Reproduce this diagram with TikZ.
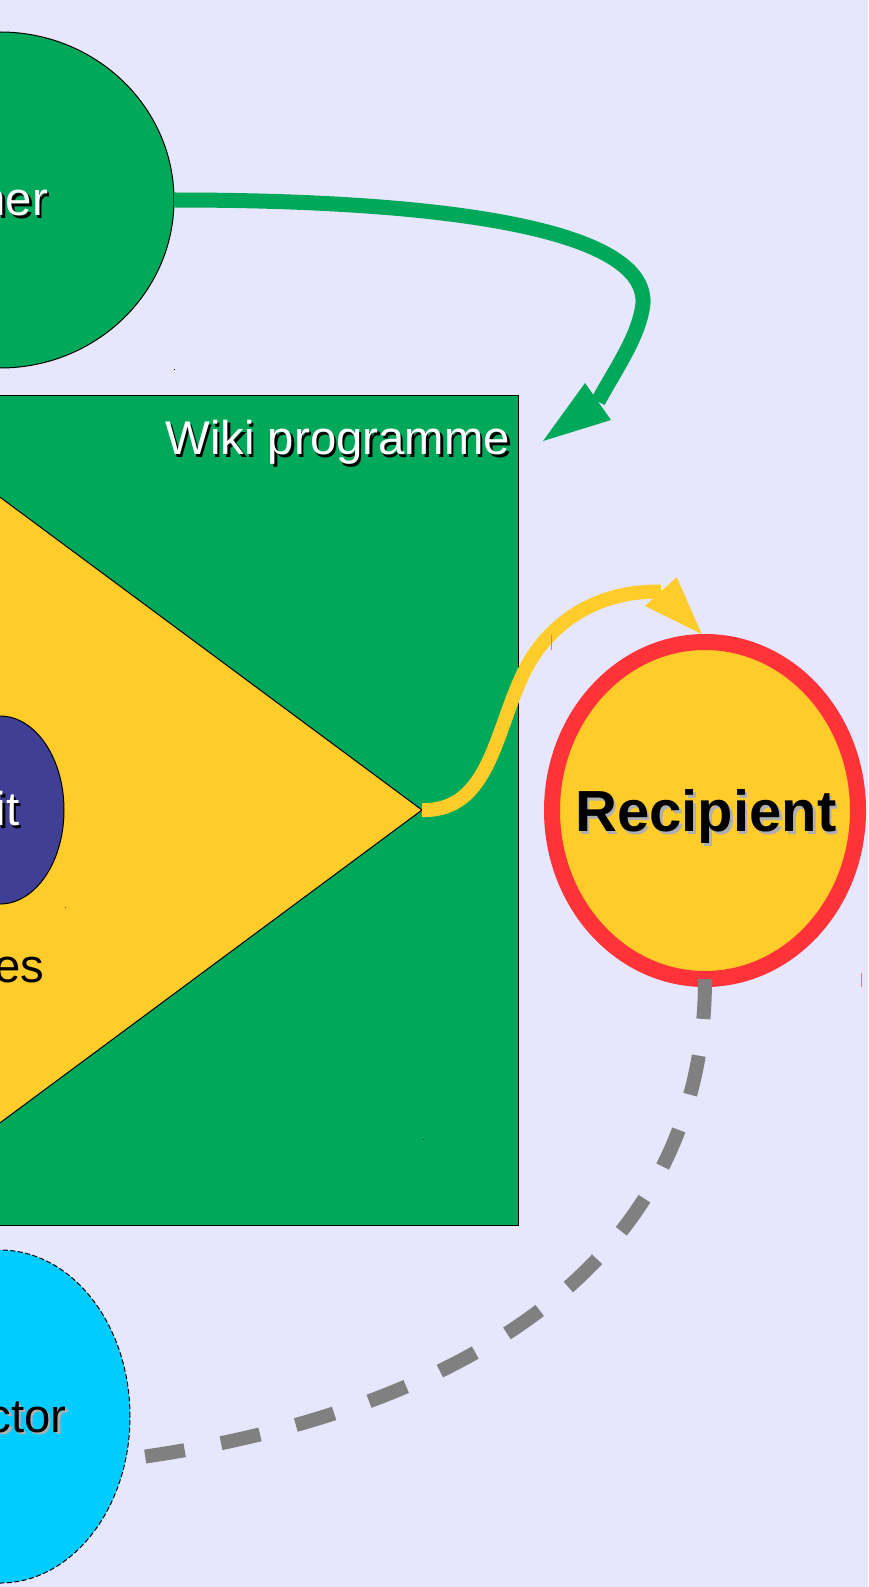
\documentclass[tikz,border=0pt]{standalone}
\usepackage{fontspec}
\setmainfont{Liberation Sans}
\usetikzlibrary{shapes.geometric}
\definecolor{bgc}{RGB}{230,230,252}
\definecolor{grn}{RGB}{0,168,89}
\definecolor{ylw}{RGB}{255,204,41}
\definecolor{blu}{RGB}{63,63,150}
\definecolor{rd}{RGB}{255,51,56}
\definecolor{cyn}{RGB}{0,204,255}
\definecolor{gry}{RGB}{128,128,128}
\definecolor{shd}{RGB}{175,175,175}
\tikzset{
  lbl/.style={font=\fontsize{35.5}{42}\selectfont, inner sep=0pt, outer sep=0pt, anchor=base east},
  wlbl/.style={lbl, text=white},
  blbl/.style={lbl, text=black},
  kshadow/.style={lbl, text=black},
  gshadow/.style={lbl, text=shd},
  boldlbl/.style={font=\bfseries\fontsize{43.5}{50}\selectfont, inner sep=0pt, outer sep=0pt, anchor=base},
  blob/.style={ellipse, inner sep=0pt, outer sep=0pt},
  thinline/.style={draw=black, line width=0.75pt},
  flow/.style={line width=10.5pt},
}
\begin{document}
\begin{tikzpicture}[x=0.75pt,y=-0.75pt]
\useasboundingbox (0,0) rectangle (868,1587);
\clip (0,0) rectangle (868,1587);
\fill[bgc] (0,0) rectangle (868,1587);

% green ellipse (partner)
\node[blob, thinline, fill=grn, minimum width=261pt, minimum height=252pt] (partner) at (0,200) {};
\node[kshadow] (nerS) at (50.5,218.5) {ner};
\node[wlbl] (ner) at (48,216) {ner};

% programme rectangle
\node[rectangle, thinline, fill=grn, inner sep=0pt, outer sep=0pt, anchor=north east,
      minimum width=675pt, minimum height=622.5pt] (wiki) at (518,395) {};
\node[kshadow] (wikiS) at (512.5,457) {Wiki programme};
\node[wlbl] (wikiT) at (510,454.5) {Wiki programme};

% yellow triangle
\coordinate (tritop) at (-100,423);
\coordinate (tritip) at (422,810);
\coordinate (tribot) at (-100,1197);
\filldraw[fill=ylw, draw=black, line width=0.75pt] (tritop) -- (tritip) -- (tribot) -- cycle;

% blue ellipse
\node[blob, thinline, fill=blu, minimum width=96pt, minimum height=141pt] (benefit) at (0,810) {};
\node[kshadow] (itS) at (22,828) {it};
\node[wlbl] (itT) at (19.5,825.5) {it};
\node[blbl] (esT) at (44,982) {es};

% recipient
\node[blob, draw=rd, line width=12pt, fill=ylw, minimum width=229.5pt, minimum height=252.75pt] (rec) at (705,810.5) {};
\node[boldlbl, text=shd] (recS) at (708.5,834) {Recipient};
\node[boldlbl, text=black] (recT) at (706,831) {Recipient};

% yellow connector
\coordinate (ybase) at (660.8,591.7);
\coordinate (ytip) at (701.7,634);
\coordinate (yc1) at (645,606);
\coordinate (yc2) at (676.7,577.3);
\draw[ylw, flow] (tritip) .. controls (490,812) and (495,730) .. (525,670)
   .. controls (545,630) and (590,590) .. (ybase);
\fill[ylw] (ytip) -- (yc1) -- (yc2) -- cycle;

% cyan ellipse
\node[blob, draw=black, line width=0.75pt, dash pattern=on 3.75pt off 1.9pt, fill=cyn,
      minimum width=195pt, minimum height=249.75pt] (actor) at (0,1416.5) {};
\node[gshadow] (ctorS) at (69,1434.5) {ctor};
\node[blbl] (ctorT) at (66.5,1432) {ctor};

% gray dashed connector
\coordinate (gend) at (142,1457);
\draw[gry, flow, dash pattern=on 30pt off 27.75pt] (rec.south) .. controls (705,1300) and (400,1420) .. (gend);

% green connector
\coordinate (gbase) at (598,401.5);
\coordinate (gtip) at (543,441);
\coordinate (gc1) at (585,383);
\coordinate (gc2) at (611,420);
\draw[grn, flow, line width=11.25pt] (partner.east) .. controls (450,200) and (646,230) .. (643,303)
   .. controls (640,335) and (615,370) .. (gbase);
\fill[grn] (gtip) -- (gc1) -- (gc2) -- cycle;

% small marks
\draw[rd!70, line width=0.75pt] (551.7,635) -- (551.7,650);
\draw[rd!70, line width=0.75pt] (861,973) -- (861,987);
\fill[black] (173.5,368.5) rectangle (174.5,369.5);
\fill[black!60!ylw] (64.5,906.5) rectangle (65.5,907.5);
\fill[black!60!grn] (422.5,1138.5) rectangle (423.5,1139.5);
\end{tikzpicture}
\end{document}
